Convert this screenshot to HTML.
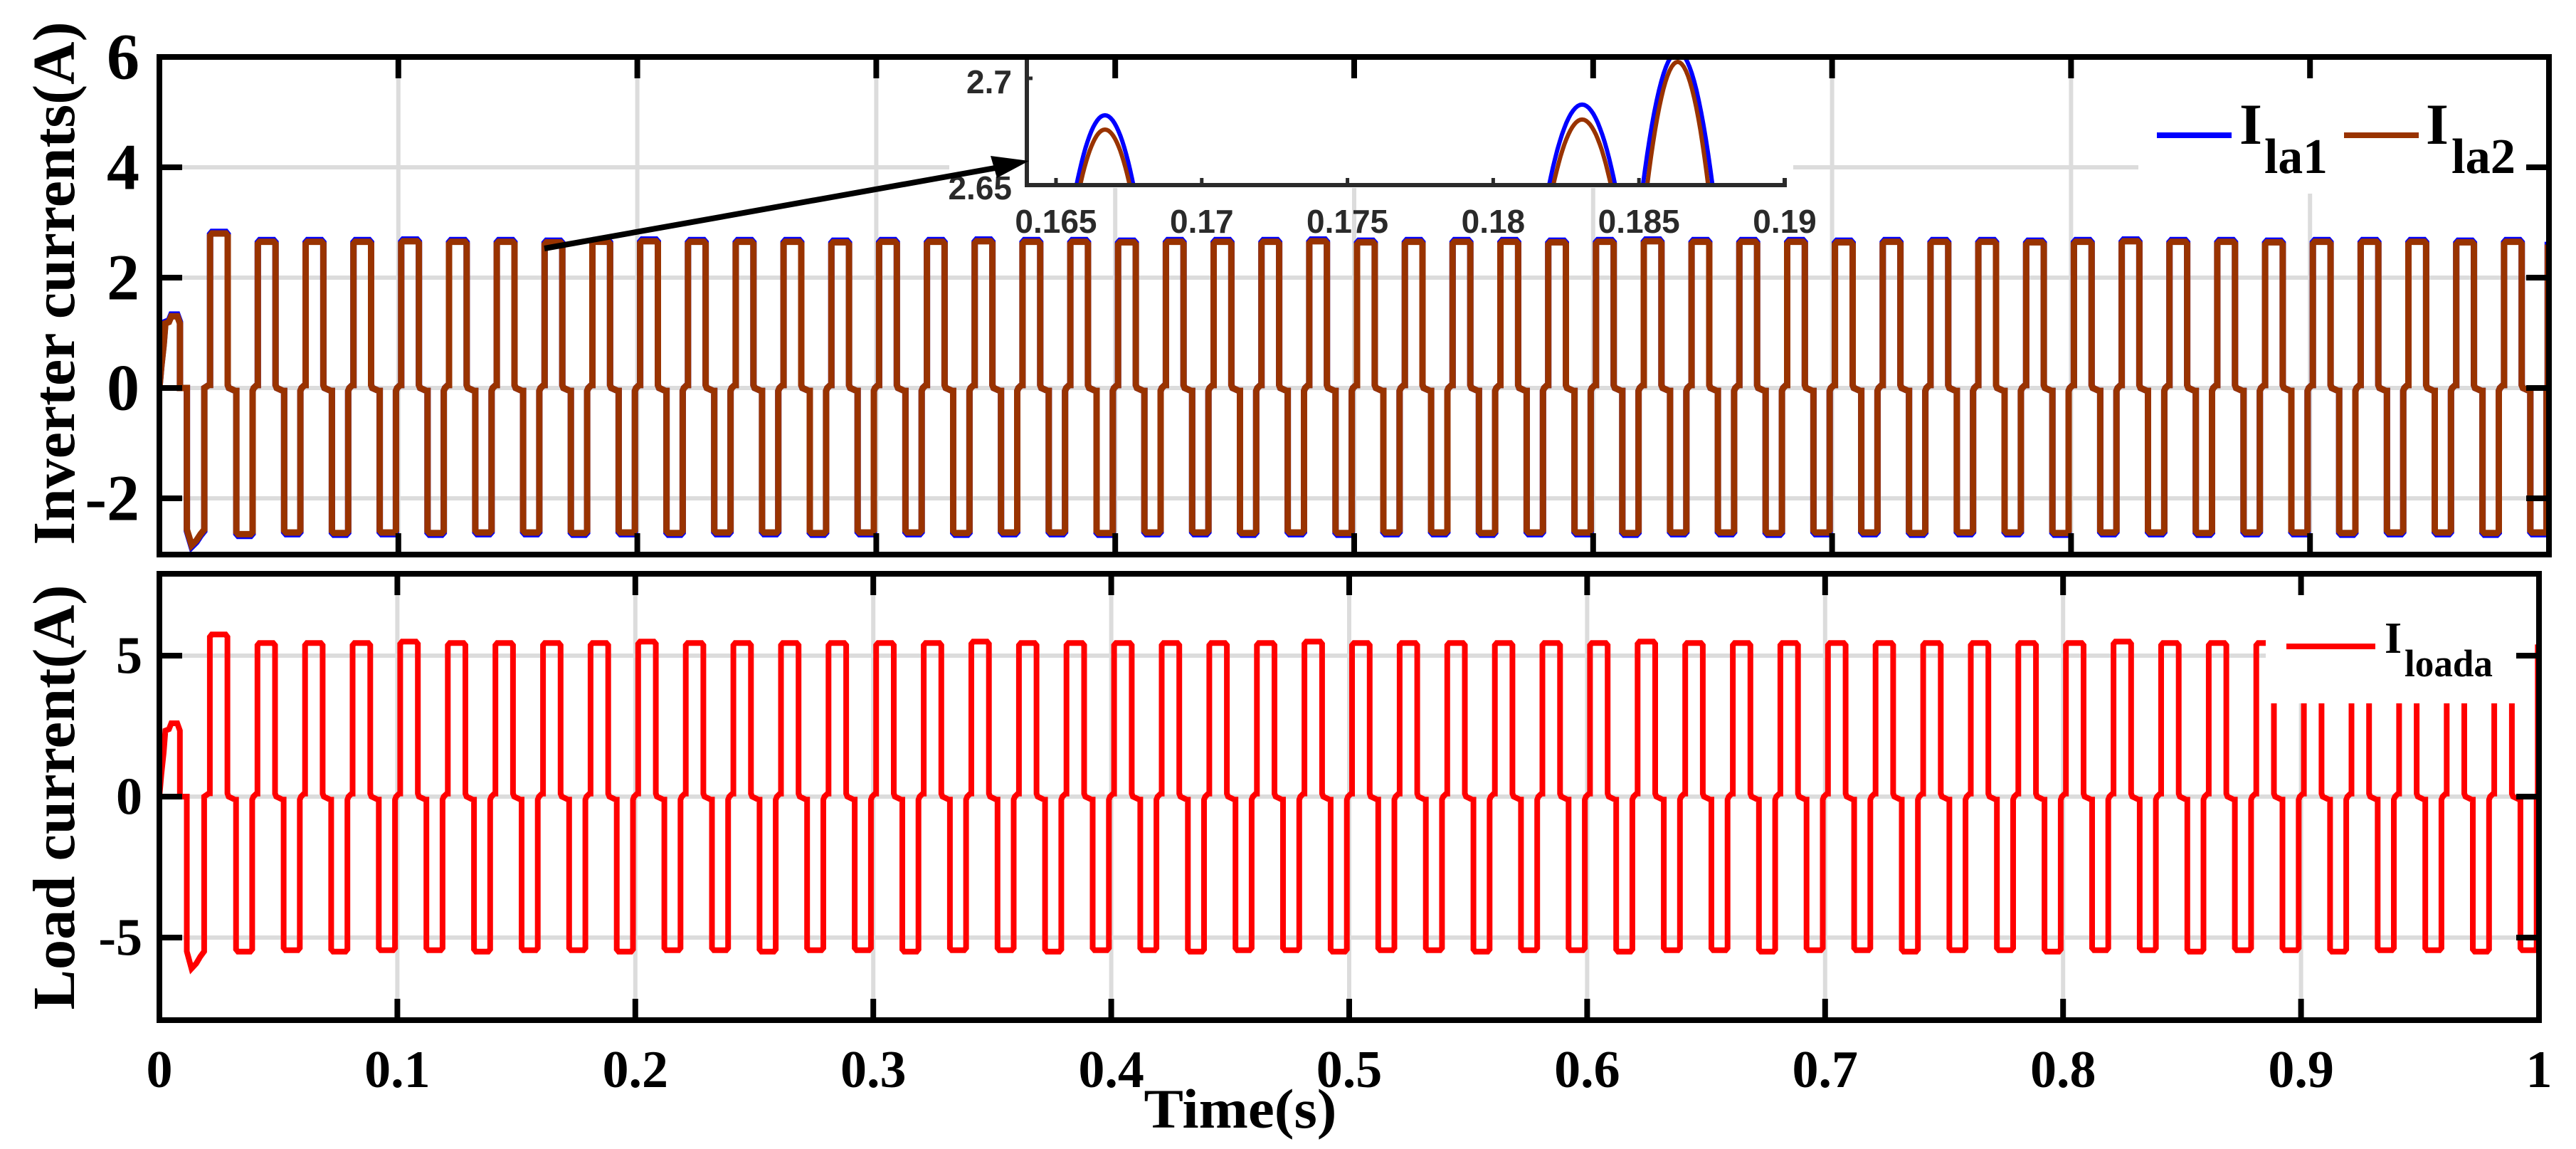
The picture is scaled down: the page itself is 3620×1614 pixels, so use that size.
<!DOCTYPE html>
<html><head><meta charset="utf-8"><style>
html,body{margin:0;padding:0;background:#fff;}
svg{display:block;}
text{font-family:"Liberation Serif",serif;font-weight:bold;fill:#000;}
.sans{font-family:"Liberation Sans",sans-serif;fill:#2a2a2a;}
</style></head><body>
<svg id="chart" width="3620" height="1614" viewBox="0 0 3620 1614" xmlns="http://www.w3.org/2000/svg">
<g id="grid"></g>
<g id="series"></g>
<g id="overlays"></g>
<g id="axes"></g>
</svg>
<script>
// ---- data ----
const xTicks = [0, 0.1, 0.2, 0.3, 0.4, 0.5, 0.6, 0.7, 0.8, 0.9, 1];
const xTickLabels = ["0", "0.1", "0.2", "0.3", "0.4", "0.5", "0.6", "0.7", "0.8", "0.9", "1"];
const invYTicks = [-2, 0, 2, 4, 6];
const invYTickLabels = ["-2", "0", "2", "4", "6"];
const loadYTicks = [-5, 0, 5];
const loadYTickLabels = ["-5", "0", "5"];
// per-cycle plateau amplitudes (cycle 0 is the start-up transient)
const invPosAmp = [1.3,2.8,2.65,2.65,2.65,2.66,2.65,2.65,2.64,2.65,2.66,2.65,2.65,2.65,2.64,2.65,2.65,2.66,2.65,2.65,2.64,2.65,2.65,2.65,2.66,2.64,2.65,2.65,2.65,2.64,2.65,2.66,2.65,2.65,2.65,2.64,2.65,2.65,2.65,2.64,2.65,2.66,2.65,2.65,2.64,2.65,2.65,2.65,2.64,2.65];
const invNegAmp = [-2.85,-2.65,-2.62,-2.63,-2.62,-2.63,-2.62,-2.62,-2.63,-2.62,-2.63,-2.62,-2.62,-2.63,-2.62,-2.62,-2.63,-2.62,-2.62,-2.63,-2.62,-2.62,-2.63,-2.62,-2.63,-2.62,-2.62,-2.63,-2.62,-2.62,-2.63,-2.62,-2.62,-2.63,-2.62,-2.62,-2.63,-2.62,-2.62,-2.63,-2.62,-2.62,-2.63,-2.62,-2.62,-2.63,-2.62,-2.62,-2.63,-2.62];
const loadPosAmp = [2.6,5.75,5.45,5.45,5.45,5.5,5.45,5.45,5.45,5.45,5.5,5.45,5.45,5.45,5.45,5.45,5.45,5.5,5.45,5.45,5.45,5.45,5.45,5.45,5.5,5.45,5.45,5.45,5.45,5.45,5.45,5.5,5.45,5.45,5.45,5.45,5.45,5.45,5.45,5.45,5.45,5.5,5.45,5.45,5.45,5.45,5.45,5.45,5.45,5.45];
const loadNegAmp = [-6.1,-5.5,-5.45,-5.5,-5.45,-5.45,-5.5,-5.45,-5.45,-5.5,-5.45,-5.45,-5.5,-5.45,-5.45,-5.5,-5.45,-5.45,-5.5,-5.45,-5.45,-5.5,-5.45,-5.45,-5.5,-5.45,-5.45,-5.5,-5.45,-5.45,-5.5,-5.45,-5.45,-5.5,-5.45,-5.45,-5.5,-5.45,-5.45,-5.5,-5.45,-5.45,-5.5,-5.45,-5.45,-5.5,-5.45,-5.45,-5.5,-5.45];
// pulse timing within a 20 ms cycle (s)
const pulseTiming = [0.0012, 0.0086, 0.0122, 0.0190]; // posStart, posEnd, negStart, negEnd
const cyclePeriod = [0.02];
// inset (zoom of peaks)
const insetXTicks = [0.165, 0.17, 0.175, 0.18, 0.185, 0.19];
const insetXTickLabels = ["0.165", "0.17", "0.175", "0.18", "0.185", "0.19"];
const insetYTicks = [2.65, 2.7];
const insetYTickLabels = ["2.65", "2.7"];
const insetPeakCenters = [0.16668, 0.18305, 0.18633];
const insetPeakHalfWidths = [0.00095, 0.0011, 0.00115];
const insetBluePeaks = [2.6827, 2.6877, 2.7125];
const insetBrownPeaks = [2.6760, 2.6807, 2.7077];

// ---- geometry ----
const NS = "http://www.w3.org/2000/svg";
function el(tag, attrs, parent){const e=document.createElementNS(NS,tag);for(const k in attrs)e.setAttribute(k,attrs[k]);parent.appendChild(e);return e;}
const panelTop = {x0:224, x1:3582, yTop:80, yBot:779, v0:545, k:77.5, tmin:0, tmax:1};
const panelBot = {x0:224, x1:3568, yTop:806, yBot:1433, v0:1119, k:39.6, tmin:0, tmax:1};
function sx(p,t){return p.x0 + (t-p.tmin)/(p.tmax-p.tmin)*(p.x1-p.x0);}
function sy(p,v){return p.v0 - v*p.k;}
const gGrid=document.getElementById('grid'), gSer=document.getElementById('series'), gOv=document.getElementById('overlays'), gAx=document.getElementById('axes');

function buildWave(pos, neg, trans){
  const pts=[[0,0]];
  const T=cyclePeriod[0];
  for(let k=0;k<pos.length;k++){
    const b=k*T;
    if(k===0){
      pts.push([0.0008,0.3*pos[0]],[0.0018,0.6*pos[0]],[0.0025,0.9*pos[0]],[0.004,0.92*pos[0]],[0.005,pos[0]],[0.0075,pos[0]],[0.0086,0.9*pos[0]],[0.0086,0]);
      pts.push([0.0115,0],[0.0115,0.9*neg[0]],[0.0135,neg[0]],[0.0155,0.97*neg[0]],[0.0172,0.93*neg[0]],[0.0188,0.9*neg[0]],[0.0188,0]);
      continue;
    }
    const ps=b+pulseTiming[0], pe=b+pulseTiming[1], ns=b+pulseTiming[2], ne=b+pulseTiming[3];
    pts.push([ps-0.0004,0.02*pos[k]],[ps,0.02*pos[k]],[ps,pos[k]*0.985],[ps+0.0008,pos[k]],[pe-0.0008,pos[k]],[pe,pos[k]*0.985],[pe,0.02*pos[k]],[pe+0.0005,0]);
    if(ne<=1) pts.push([ns-0.0004,0.02*neg[k]],[ns,0.02*neg[k]],[ns,neg[k]*0.985],[ns+0.0008,neg[k]],[ne-0.0008,neg[k]],[ne,neg[k]*0.985],[ne,0.02*neg[k]],[ne+0.0005,0]);
  }
  pts.push([0.9995,0],[0.9995,trans]);
  return pts;
}
function pathD(p, pts){return pts.map((q,i)=>(i?'L':'M')+sx(p,q[0]).toFixed(1)+' '+sy(p,q[1]).toFixed(1)).join(' ');}

// ---- grids ----
[[panelTop,invYTicks],[panelBot,loadYTicks]].forEach(([p,yt])=>{
  xTicks.forEach(t=>{if(t>0&&t<1){const l=el('line',{x1:sx(p,t),x2:sx(p,t),y1:p.yTop,y2:p.yBot,stroke:'#dcdcdc','stroke-width':6},gGrid);

}});
  yt.forEach(v=>{const y=sy(p,v);if(y>p.yTop+5&&y<p.yBot-5){const l=el('line',{x1:p.x0,x2:p.x1,y1:y,y2:y,stroke:'#dcdcdc','stroke-width':6},gGrid);

}});
});

// ---- series ----
const defs=el('defs',{},document.getElementById('chart'));
const clipT=el('clipPath',{id:'ct'},defs);el('rect',{x:panelTop.x0,y:panelTop.yTop,width:panelTop.x1-panelTop.x0,height:panelTop.yBot-panelTop.yTop},clipT);
const clipB=el('clipPath',{id:'cb'},defs);el('rect',{x:panelBot.x0,y:panelBot.yTop,width:panelBot.x1-panelBot.x0,height:panelBot.yBot-panelBot.yTop},clipB);
const blue=el('path',{d:pathD(panelTop,buildWave(invPosAmp.map(v=>v+0.03),invNegAmp.map(v=>v-0.03),2.65)),fill:'none',stroke:'#0000ff','stroke-width':9,'stroke-linejoin':'miter','clip-path':'url(#ct)'},gSer);


const brown=el('path',{d:pathD(panelTop,buildWave(invPosAmp,invNegAmp,2.6)),fill:'none',stroke:'#993300','stroke-width':9,'stroke-linejoin':'miter','clip-path':'url(#ct)'},gSer);


const red=el('path',{d:pathD(panelBot,buildWave(loadPosAmp,loadNegAmp,5.4)),fill:'none',stroke:'#ff0000','stroke-width':8,'stroke-linejoin':'miter','clip-path':'url(#cb)'},gSer);



// ---- legends ----
function legendBox(x,y,w,h,name){const r=el('rect',{x,y,width:w,height:h,fill:'#fff'},gOv);

}
legendBox(3005,84,3575-3005,272-84,'legend-top');
legendBox(3184,810,3561-3184,988-810,'legend-bottom');
function legLine(x1,x2,y,c,name){const l=el('line',{x1,x2,y1:y,y2:y,stroke:c,'stroke-width':8},gOv);

}
function txt(x,y,s,size,attrs,parent,name){const t=el('text',Object.assign({x,y,'font-size':size},attrs||{}),parent||gAx);t.textContent=s;

return t;}
legLine(3031,3136,190,'#0000ff','legend-ila1-swatch');
txt(3147,202,'I',82,{},gOv,'legend-ila1-label');
txt(3182,243,'la1',70,{textLength:89,lengthAdjust:'spacingAndGlyphs'},gOv,'legend-ila1-subscript');
legLine(3294,3399,190,'#993300','legend-ila2-swatch');
txt(3409,202,'I',82,{},gOv,'legend-ila2-label');
txt(3445,243,'la2',70,{textLength:90,lengthAdjust:'spacingAndGlyphs'},gOv,'legend-ila2-subscript');
legLine(3213,3338,908,'#ff0000','legend-iloada-swatch');
txt(3351,917,'I',62,{},gOv,'legend-iloada-label');
txt(3379,950,'loada',54,{textLength:124,lengthAdjust:'spacingAndGlyphs'},gOv,'legend-iloada-subscript');

// ---- inset ----
const ins={x0:1443,x1:2508,yTop:83,yBot:260};
const insT=[0.164,0.19], insV=[2.65,2.709];
function ix(t){return ins.x0+(t-insT[0])/(insT[1]-insT[0])*(ins.x1-ins.x0);}
function iy(v){return ins.yBot-(v-insV[0])/(insV[1]-insV[0])*(ins.yBot-ins.yTop);}
const ib=el('rect',{x:1334,y:84,width:2520-1334,height:ins.yBot-84+4,fill:'#fff'},gOv);


const clipI=el('clipPath',{id:'ci'},defs);el('rect',{x:ins.x0,y:ins.yTop,width:ins.x1-ins.x0,height:ins.yBot-ins.yTop},clipI);
function peak(c,hw,h){const pts=[];for(let i=0;i<=30;i++){const t=c-hw+2*hw*i/30;const u=(t-c)/hw;pts.push([t,2.65+(h-2.65+0.0015)*(1-u*u)-0.0015]);}return pts;}
[[insetBluePeaks,'#0000ff','inset-ila1-peak'],[insetBrownPeaks,'#993300','inset-ila2-peak']].forEach(([hs,c,nm])=>{
  hs.forEach((h,i)=>{const hw=insetPeakHalfWidths[i]*(c==='#0000ff'?1.05:0.92);const pts=peak(insetPeakCenters[i],hw,h);
  const p=el('path',{d:pts.map((q,j)=>(j?'L':'M')+ix(q[0]).toFixed(1)+' '+iy(q[1]).toFixed(1)).join(' '),fill:'none',stroke:c,'stroke-width':6,'clip-path':'url(#ci)'},gOv);

});
});
el('path',{d:`M${ins.x0} ${ins.yTop} L${ins.x0} ${ins.yBot} L${ins.x1} ${ins.yBot} L${ins.x1} ${ins.yBot-10}`,fill:'none',stroke:'#2a2a2a','stroke-width':6},gOv);
insetXTicks.forEach((t,i)=>{el('line',{x1:ix(t),x2:ix(t),y1:ins.yBot,y2:ins.yBot-10,stroke:'#2a2a2a','stroke-width':5},gOv);
  txt(ix(t),327,insetXTickLabels[i],46,{'text-anchor':'middle',class:'sans'},gOv,'inset-x-tick-label');});
insetYTicks.forEach((v,i)=>{el('line',{x1:ins.x0,x2:ins.x0+8,y1:iy(v),y2:iy(v),stroke:'#2a2a2a','stroke-width':5},gOv);
  txt(1422,iy(v)+(i===0?20:21),insetYTickLabels[i],46,{'text-anchor':'end',class:'sans'},gOv,'inset-y-tick-label');});
const arrow=el('line',{x1:765,y1:349,x2:1415,y2:233,stroke:'#000','stroke-width':8},gOv);


const ah=el('polygon',{points:'1446,226 1392,219 1401,250',fill:'#000'},gOv);



// ---- axes ----
[[panelTop,invYTicks,invYTickLabels,92,'inverter'],[panelBot,loadYTicks,loadYTickLabels,74,'load']].forEach(([p,yt,yl,fs,nm])=>{
  const r=el('rect',{x:p.x0,y:p.yTop,width:p.x1-p.x0,height:p.yBot-p.yTop,fill:'none',stroke:'#000','stroke-width':8},gAx);
  
  
  xTicks.forEach(t=>{const x=sx(p,t);
    el('line',{x1:x,x2:x,y1:p.yTop,y2:p.yTop+30,stroke:'#000','stroke-width':8},gAx);
    el('line',{x1:x,x2:x,y1:p.yBot,y2:p.yBot-30,stroke:'#000','stroke-width':8},gAx);});
  yt.forEach((v,i)=>{const y=sy(p,v);
    el('line',{x1:p.x0,x2:p.x0+32,y1:y,y2:y,stroke:'#000','stroke-width':8},gAx);
    el('line',{x1:p.x1,x2:p.x1-32,y1:y,y2:y,stroke:'#000','stroke-width':8},gAx);
    txt(nm==='inverter'?196:200,y+fs*0.33,yl[i],fs,{'text-anchor':'end'},gAx,nm+'-y-tick-label');});
});
xTicks.forEach((t,i)=>{txt(sx(panelBot,t),1527,xTickLabels[i],74,{'text-anchor':'middle'},gAx,'x-tick-label');});
txt(1743,1584,'Time(s)',78,{'text-anchor':'middle',textLength:271,lengthAdjust:'spacingAndGlyphs'},gAx,'x-axis-title');
txt(0,0,'Inverter currents(A)',84,{'text-anchor':'middle',transform:'translate(104,398) rotate(-90)',textLength:735,lengthAdjust:'spacingAndGlyphs'},gAx,'inverter-y-axis-title');
txt(0,0,'Load current(A)',84,{'text-anchor':'middle',transform:'translate(104,1120) rotate(-90)',textLength:597,lengthAdjust:'spacingAndGlyphs'},gAx,'load-y-axis-title');
</script>
</body></html>
